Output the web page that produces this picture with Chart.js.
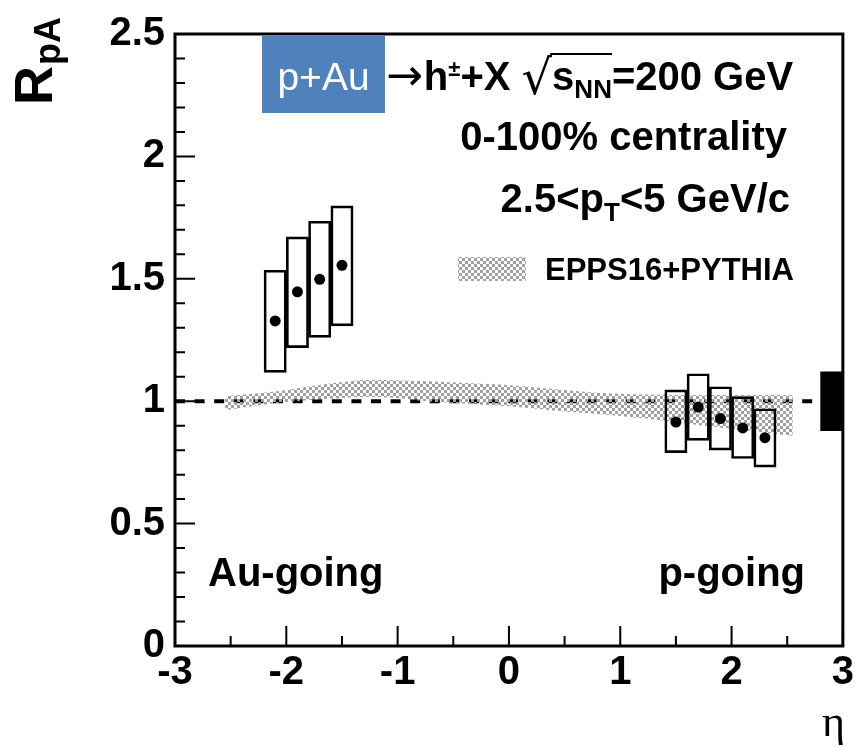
<!DOCTYPE html>
<html>
<head>
<meta charset="utf-8">
<title>RpA vs eta, p+Au</title>
<script src="https://cdn.jsdelivr.net/npm/chart.js@4.4.1/dist/chart.umd.min.js"></script>
<style>
  html, body { margin: 0; padding: 0; background: #ffffff; }
  canvas { display: block; }
</style>
</head>
<body>
<canvas id="c" width="857" height="747"></canvas>
<script>
// ---- measured values ----
// Au-going side (backward rapidity)
const etaAu      = [-2.1, -1.9, -1.7, -1.5];
const rpaAu      = [1.328, 1.447, 1.498, 1.555];
const sysLowAu   = [1.118, 1.219, 1.261, 1.308];
const sysHighAu  = [1.535, 1.671, 1.735, 1.798];

// p-going side (forward rapidity)
const etaP       = [1.5, 1.7, 1.9, 2.1, 2.3];
const rpaP       = [0.915, 0.976, 0.929, 0.891, 0.851];
const sysLowP    = [0.790, 0.840, 0.800, 0.766, 0.731];
const sysHighP   = [1.046, 1.112, 1.059, 1.019, 0.969];

// EPPS16+PYTHIA band
const bandEta    = [-2.55, -2.25, -2.0, -1.75, -1.5, -1.25, -1.0, -0.75, -0.5, -0.25, 0.0,
                    0.25, 0.5, 0.75, 1.0, 1.25, 1.5, 1.75, 2.0, 2.25, 2.55];
const bandHigh   = [1.020, 1.032, 1.046, 1.063, 1.078, 1.088, 1.086, 1.081, 1.076, 1.071, 1.066,
                    1.056, 1.046, 1.036, 1.030, 1.027, 1.025, 1.025, 1.025, 1.025, 1.024];
const bandLow    = [0.963, 0.983, 0.997, 1.006, 1.013, 1.017, 1.013, 1.000, 0.993, 0.986, 0.979,
                    0.969, 0.958, 0.950, 0.940, 0.928, 0.914, 0.900, 0.887, 0.874, 0.858];

// global normalisation uncertainty box
const normEta    = [2.9];
const normLow    = [0.88];
const normHigh   = [1.12];

// unity reference
const unityEta   = [-3, 2.75];
const unityValue = 1;

// axis ticks
const xTicks     = [-3, -2, -1, 0, 1, 2, 3];
const yTicks     = [0, 0.5, 1, 1.5, 2, 2.5];

// ---- helpers ----
const canvas = document.getElementById('c');
const mainCtx = canvas.getContext('2d');

function checkerPattern() {
  const t = document.createElement('canvas');
  t.width = 6; t.height = 6;
  const g = t.getContext('2d');
  g.fillStyle = '#a0a0a0';
  g.fillRect(0, 0, 3, 3);
  g.fillRect(3, 3, 3, 3);
  return mainCtx.createPattern(t, 'repeat');
}
const bandFill = checkerPattern();

const pts = (xs, ys) => xs.map((v, i) => ({ x: v, y: ys[i] }));
const ranges = (xs, lo, hi) => xs.map((v, i) => ({ x: v, y: [lo[i], hi[i]] }));

const FONT = "'Liberation Sans', Arial, Helvetica, sans-serif";
const bold = s => `bold ${s}px ${FONT}`;
const norm = s => `${s}px ${FONT}`;

// draws a run of text pieces, each with its own font and vertical shift
function drawRuns(ctx, runs, x, y, align) {
  let total = 0;
  runs.forEach(r => { ctx.font = r.font; r.w = ctx.measureText(r.text).width + (r.gap || 0); total += r.w; });
  let cx = align === 'right' ? x - total : x;
  runs.forEach(r => {
    ctx.font = r.font;
    r.x0 = cx;
    ctx.fillText(r.text, cx, y + (r.dy || 0));
    cx += r.w;
  });
  return runs;
}

// ---- frame, inner tick marks and annotations ----
const decor = {
  id: 'decor',
  afterDatasetsDraw(chart) {
    const { ctx, chartArea: a, scales: { x, y } } = chart;
    ctx.save();
    ctx.strokeStyle = '#000';
    ctx.lineWidth = 2;
    ctx.beginPath();
    for (let i = 0; i <= 12; i++) {
      const v = -3 + i * 0.5;
      const px = x.getPixelForValue(v);
      const len = i % 2 === 0 ? 20 : 10;
      ctx.moveTo(px, a.bottom); ctx.lineTo(px, a.bottom - len);
    }
    for (let i = 0; i <= 25; i++) {
      const py = y.getPixelForValue(i / 10);
      const len = i % 5 === 0 ? 20 : 10;
      ctx.moveTo(a.left, py); ctx.lineTo(a.left + len, py);
    }
    ctx.stroke();
    ctx.lineWidth = 3;
    ctx.strokeRect(a.left, a.top, a.right - a.left, a.bottom - a.top);
    ctx.restore();
  },
  afterDraw(chart) {
    const { ctx } = chart;
    ctx.save();
    ctx.fillStyle = '#000';
    ctx.textBaseline = 'alphabetic';
    ctx.textAlign = 'left';

    // collision system box
    ctx.fillStyle = '#4f81bd';
    ctx.fillRect(262, 36, 123, 77);
    ctx.fillStyle = '#ffffff';
    ctx.font = norm(39);
    ctx.textAlign = 'center';
    ctx.fillText('p+Au', 323.5, 90);
    ctx.textAlign = 'left';
    ctx.fillStyle = '#000';

    // reaction line
    const runs = drawRuns(ctx, [
      { text: '\u2192', font: `44px 'DejaVu Sans', sans-serif`, gap: 1 },
      { text: 'h', font: bold(40) },
      { text: '\u00b1', font: bold(22), dy: -14 },
      { text: '+X ', font: bold(40) },
      { text: '\u221a', font: `48px 'DejaVu Sans', sans-serif`, dy: 4 },
      { text: 's', font: bold(40) },
      { text: 'NN', font: bold(26), dy: 8 },
      { text: '=200 GeV', font: bold(40) }
    ], 386, 90, 'left');
    // radical bar over s_NN
    ctx.lineWidth = 2;
    ctx.beginPath();
    ctx.moveTo(runs[5].x0 - 2, 54);
    ctx.lineTo(runs[6].x0 + runs[6].w, 54);
    ctx.stroke();

    ctx.font = bold(40);
    ctx.textAlign = 'right';
    ctx.fillText('0-100% centrality', 787, 150);
    ctx.textAlign = 'left';

    drawRuns(ctx, [
      { text: '2.5<p', font: bold(40) },
      { text: 'T', font: bold(26), dy: 9 },
      { text: '<5 GeV/c', font: bold(40) }
    ], 790, 212, 'right');

    // legend entry
    ctx.fillStyle = bandFill;
    ctx.fillRect(458, 257, 68, 24);
    ctx.fillStyle = '#000';
    ctx.font = bold(31);
    ctx.fillText('EPPS16+PYTHIA', 545, 280);

    // beam direction labels
    ctx.font = bold(40);
    ctx.fillText('Au-going', 208, 586);
    ctx.textAlign = 'right';
    ctx.fillText('p-going', 805, 586);
    ctx.textAlign = 'left';

    // axis titles
    ctx.font = `44px 'Liberation Serif', 'DejaVu Serif', serif`;
    ctx.fillText('\u03b7', 822, 736);

    ctx.translate(52, 105);
    ctx.rotate(-Math.PI / 2);
    ctx.font = bold(54);
    ctx.fillText('R', 0, 0);
    const rw = ctx.measureText('R').width;
    ctx.font = bold(36);
    ctx.fillText('pA', rw + 1, 8);
    ctx.restore();
  }
};

const tickFont = { family: FONT, size: 40, weight: 'bold' };

new Chart(canvas, {
  type: 'scatter',
  data: {
    datasets: [
      {
        type: 'line',
        data: pts(unityEta, unityEta.map(() => unityValue)),
        borderColor: '#000',
        borderWidth: 4,
        borderDash: [10, 9.6],
        pointRadius: 0,
        fill: false,
        order: 4
      },
      {
        type: 'line',
        label: 'EPPS16+PYTHIA',
        data: pts(bandEta, bandHigh),
        borderWidth: 0,
        borderColor: 'rgba(0,0,0,0)',
        backgroundColor: bandFill,
        pointRadius: 0,
        cubicInterpolationMode: 'monotone',
        fill: '+1',
        order: 3
      },
      {
        type: 'line',
        data: pts(bandEta, bandLow),
        borderWidth: 0,
        borderColor: 'rgba(0,0,0,0)',
        pointRadius: 0,
        cubicInterpolationMode: 'monotone',
        fill: false,
        order: 3
      },
      {
        type: 'bar',
        data: ranges(etaAu, sysLowAu, sysHighAu),
        backgroundColor: 'rgba(0,0,0,0)',
        borderColor: '#000',
        borderWidth: 2,
        borderSkipped: false,
        grouped: false,
        barPercentage: 1,
        categoryPercentage: 1,
        order: 2
      },
      {
        type: 'bar',
        data: ranges(etaP, sysLowP, sysHighP),
        backgroundColor: 'rgba(0,0,0,0)',
        borderColor: '#000',
        borderWidth: 2,
        borderSkipped: false,
        grouped: false,
        barPercentage: 1,
        categoryPercentage: 1,
        order: 2
      },
      {
        type: 'bar',
        data: ranges(normEta, normLow, normHigh),
        backgroundColor: '#000',
        borderWidth: 0,
        grouped: false,
        barPercentage: 1,
        categoryPercentage: 1,
        clip: 0,
        order: 2
      },
      {
        type: 'scatter',
        data: pts(etaAu.concat(etaP), rpaAu.concat(rpaP)),
        pointRadius: 5.5,
        pointBackgroundColor: '#000',
        pointBorderWidth: 0,
        order: 1
      }
    ]
  },
  options: {
    responsive: false,
    devicePixelRatio: 1,
    animation: false,
    events: [],
    layout: { padding: { top: 26, right: 12, left: 0, bottom: 0 } },
    plugins: { legend: { display: false }, tooltip: { enabled: false } },
    scales: {
      x: {
        type: 'linear',
        min: -3, max: 3,
        offset: false,
        grid: { display: false, drawTicks: false, offset: false },
        border: { display: false },
        afterBuildTicks: s => { s.ticks = xTicks.map(v => ({ value: v })); },
        afterFit: s => { s.height = 101; },
        ticks: { color: '#000', font: tickFont, padding: 3, maxRotation: 0, autoSkip: false,
                 callback: v => String(v) }
      },
      y: {
        type: 'linear',
        min: 0, max: 2.5,
        grid: { display: false, drawTicks: false },
        border: { display: false },
        afterBuildTicks: s => { s.ticks = yTicks.map(v => ({ value: v })); },
        afterFit: s => { s.width = 175; },
        ticks: { color: '#000', font: tickFont, padding: 10, autoSkip: false,
                 callback: v => String(v) }
      }
    }
  },
  plugins: [decor]
});
</script>
</body>
</html>
